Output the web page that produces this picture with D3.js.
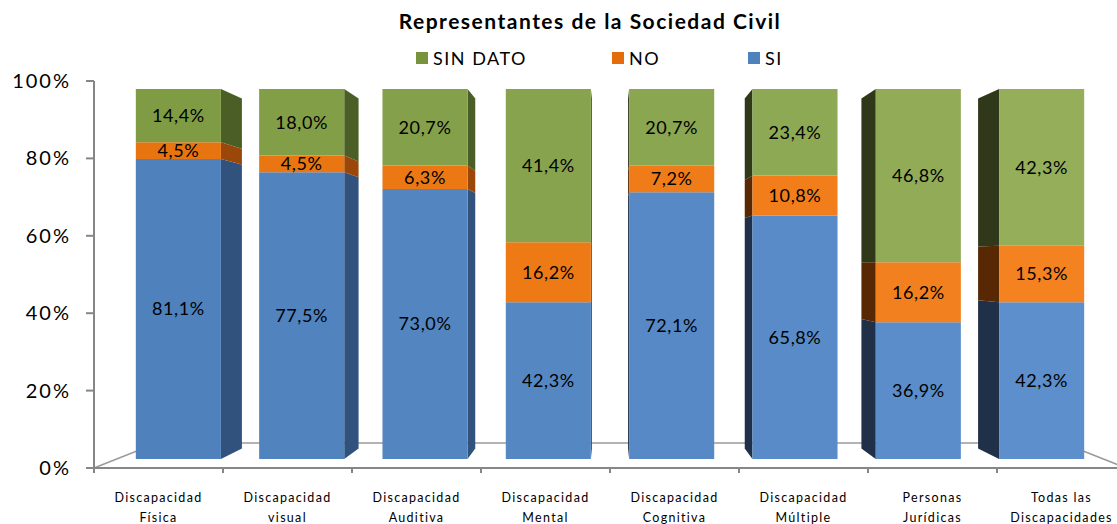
<!DOCTYPE html>
<html>
<head>
<meta charset="utf-8">
<script src="https://cdn.jsdelivr.net/npm/d3@7"></script>
<style>
  body { margin: 0; background: #fff; }
  svg text { font-family: Lato, "Open Sans", sans-serif; }
</style>
</head>
<body>
<div id="chart"></div>
<script>
// categories (two lines each) and the three stacked series
var categories = [
  ["Discapacidad", "Física"],
  ["Discapacidad", "visual"],
  ["Discapacidad", "Auditiva"],
  ["Discapacidad", "Mental"],
  ["Discapacidad", "Cognitiva"],
  ["Discapacidad", "Múltiple"],
  ["Personas", "Jurídicas"],
  ["Todas las", "Discapacidades"]
];
var si      = [81.1, 77.5, 73.0, 42.3, 72.1, 65.8, 36.9, 42.3];
var no      = [4.5, 4.5, 6.3, 16.2, 7.2, 10.8, 16.2, 15.3];
var sinDato = [14.4, 18.0, 20.7, 41.4, 20.7, 23.4, 46.8, 42.3];
var seriesKeys = ["SI", "NO", "SIN DATO"];
var legendOrder = ["SIN DATO", "NO", "SI"];
var yTicks = [0, 0.2, 0.4, 0.6, 0.8, 1];

var svgWidth = 1117;
var svgHeight = 524;

// front plane of the 3D box
var plotLeft = 94, plotRight = 1126, plotBottom = 468, plotTop = 81;
// vanishing point and depths (fraction toward vanishing point)
var vp = [610, 263];
var tFront = 0.044, tBack = 0.0956, tFloor = 0.122;

function P(x, y, t) {
  return [x + t * (vp[0] - x), y + t * (vp[1] - y)];
}

var colors = {
  "SIN DATO": { front: ["#7f9b43", "#94ae5a"], sideR: "#4b5e26", sideL: "#2f3819", legend: "#77933c" },
  "NO":       { front: ["#e8740f", "#f58220"], sideR: "#9b4709", sideL: "#572803", legend: "#e46c0a" },
  "SI":       { front: ["#4f81bd", "#5c8fcb"], sideR: "#31527d", sideL: "#1f3048", legend: "#4f81bd" }
};

var data = categories.map(function(c, i) {
  return { idx: i, cat: c, "SI": si[i], "NO": no[i], "SIN DATO": sinDato[i] };
});

var stack = d3.stack().keys(seriesKeys).offset(d3.stackOffsetExpand);
var stacked = stack(data);

var xScale = d3.scaleBand()
  .domain(d3.range(categories.length))
  .range([plotLeft, plotRight])
  .paddingInner(0.31)
  .paddingOuter(0.155);

var outer = d3.scaleBand()
  .domain(d3.range(categories.length))
  .range([plotLeft, plotRight]);

var yScale = d3.scaleLinear().domain([0, 1]).range([plotBottom, plotTop]);

var svg = d3.select("#chart")
  .append("svg")
  .attr("width", svgWidth)
  .attr("height", svgHeight);

// floor (behind the bars)
var fl = P(plotLeft, plotBottom, tFloor), fr = P(plotRight, plotBottom, tFloor);
svg.append("path")
  .attr("d", d3.line()([[plotLeft, plotBottom], fl, fr, [plotRight, plotBottom]]))
  .attr("fill", "none")
  .attr("stroke", "#9a9a9a")
  .attr("stroke-width", 1.5);

// y axis
var yAxis = svg.append("g");
yAxis.append("line")
  .attr("x1", plotLeft).attr("x2", plotLeft)
  .attr("y1", yScale(1)).attr("y2", yScale(0))
  .attr("stroke", "#868686").attr("stroke-width", 2);
yAxis.selectAll(".tick")
  .data(yTicks)
  .enter()
  .append("line")
  .attr("x1", plotLeft - 8).attr("x2", plotLeft)
  .attr("y1", d => yScale(d)).attr("y2", d => yScale(d))
  .attr("stroke", "#868686").attr("stroke-width", 2);
yAxis.selectAll("text")
  .data(yTicks)
  .enter()
  .append("text")
  .attr("x", 71)
  .attr("y", d => yScale(d))
  .attr("dy", "0.35em")
  .attr("text-anchor", "end")
  .attr("font-size", 20)
  .attr("letter-spacing", 2)
  .attr("fill", "#000")
  .text(d => d3.format(".0%")(d));

// x axis
var xAxis = svg.append("g");
xAxis.append("line")
  .attr("x1", plotLeft).attr("x2", plotRight)
  .attr("y1", plotBottom).attr("y2", plotBottom)
  .attr("stroke", "#868686").attr("stroke-width", 2);
xAxis.selectAll(".tick")
  .data(d3.range(categories.length + 1))
  .enter()
  .append("line")
  .attr("x1", d => plotLeft + d * outer.step()).attr("x2", d => plotLeft + d * outer.step())
  .attr("y1", plotBottom).attr("y2", plotBottom + 5)
  .attr("stroke", "#868686").attr("stroke-width", 2);

var catLabels = xAxis.selectAll(".cat")
  .data(data)
  .enter()
  .append("text")
  .attr("text-anchor", "middle")
  .attr("font-size", 12.5)
  .attr("letter-spacing", 1.3)
  .attr("fill", "#000");
catLabels.append("tspan")
  .attr("x", d => outer(d.idx) + outer.bandwidth() / 2)
  .attr("y", 502)
  .text(d => d.cat[0]);
catLabels.append("tspan")
  .attr("x", d => outer(d.idx) + outer.bandwidth() / 2)
  .attr("y", 522)
  .text(d => d.cat[1]);

// bars
var n = categories.length;
var bars = svg.append("g");
stacked.forEach(function(layer) {
  var key = layer.key;
  var col = colors[key];
  var frontColor = d3.interpolateRgb(col.front[0], col.front[1]);
  layer.forEach(function(seg, i) {
    var x0 = xScale(i), x1 = x0 + xScale.bandwidth();
    var y0 = yScale(seg[0]), y1 = yScale(seg[1]);
    var center = (x0 + x1) / 2;
    var sx = center < vp[0] ? x1 : x0;
    var side = [P(sx, y0, tFront), P(sx, y0, tBack), P(sx, y1, tBack), P(sx, y1, tFront)];
    bars.append("path")
      .attr("d", d3.line()(side) + "Z")
      .attr("fill", center < vp[0] ? col.sideR : col.sideL);
    var front = [P(x0, y0, tFront), P(x1, y0, tFront), P(x1, y1, tFront), P(x0, y1, tFront)];
    bars.append("path")
      .attr("d", d3.line()(front) + "Z")
      .attr("fill", frontColor(i / (n - 1)));
  });
});

// data labels
stacked.forEach(function(layer) {
  layer.forEach(function(seg, i) {
    var cx = xScale(i) + xScale.bandwidth() / 2;
    var pt = P(cx, yScale((seg[0] + seg[1]) / 2), tFront);
    svg.append("text")
      .attr("x", pt[0])
      .attr("y", pt[1])
      .attr("dy", "0.35em")
      .attr("text-anchor", "middle")
      .attr("font-size", 18)
      .attr("letter-spacing", 0.6)
      .attr("fill", "#000")
      .text(d3.format(".1f")(seg.data[layer.key]).replace(".", ",") + "%");
  });
});

// title
svg.append("text")
  .attr("x", 590)
  .attr("y", 29)
  .attr("text-anchor", "middle")
  .attr("font-size", 21)
  .attr("font-weight", "bold")
  .attr("letter-spacing", 1.5)
  .attr("fill", "#000")
  .text("Representantes de la Sociedad Civil");

// legend
var legendX = [416, 612, 748];
var legend = svg.selectAll(".legend")
  .data(legendOrder)
  .enter()
  .append("g")
  .attr("transform", (d, i) => `translate(${legendX[i]}, 59)`);
legend.append("rect")
  .attr("x", 0).attr("y", -7)
  .attr("width", 12).attr("height", 12)
  .attr("fill", d => colors[d].legend);
legend.append("text")
  .attr("x", 17)
  .attr("y", 0)
  .attr("dy", "0.35em")
  .attr("font-size", 18)
  .attr("letter-spacing", 1.5)
  .attr("fill", "#000")
  .text(d => d);
</script>
</body>
</html>
